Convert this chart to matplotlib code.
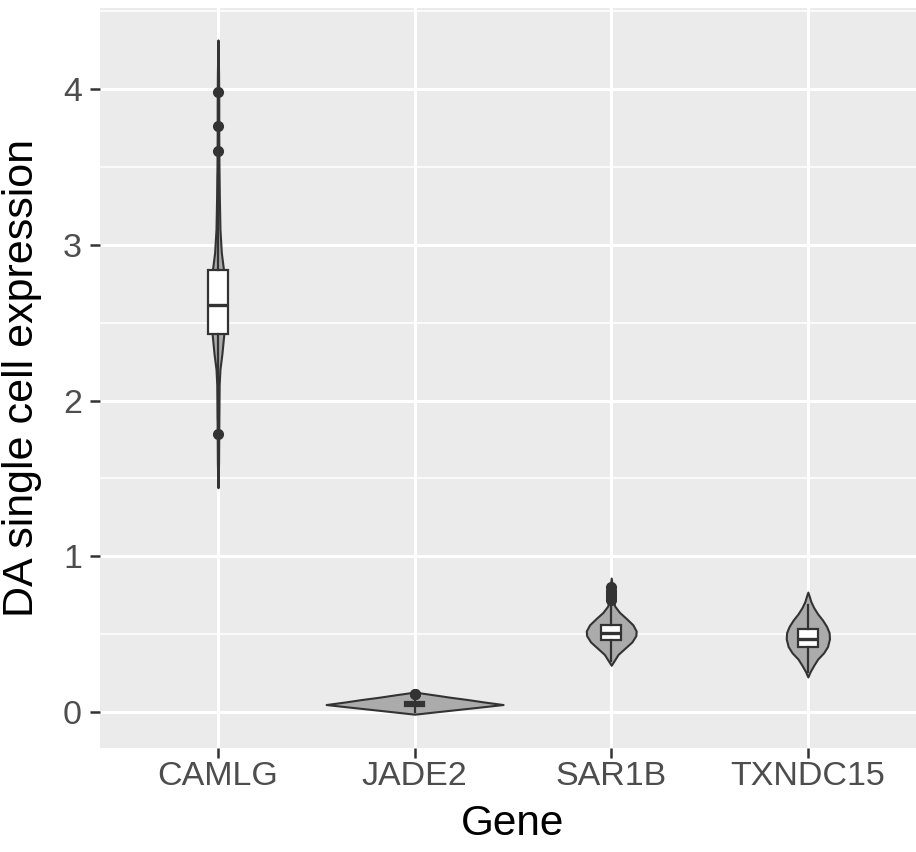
"""Violin + boxplot of DA single-cell expression for four genes (ggplot look)."""

import matplotlib
matplotlib.use("Agg")
import matplotlib.pyplot as plt

plt.rcParams["font.family"] = ["Liberation Sans", "DejaVu Sans"]

genes = ["CAMLG", "JADE2", "SAR1B", "TXNDC15"]

# violin outlines: expression level -> half width (x units)
camlg_y = [1.44, 1.60, 1.80, 1.95, 2.10, 2.20, 2.30, 2.43, 2.55, 2.65, 2.75, 2.84,
           2.95, 3.10, 3.30, 3.50, 3.70, 3.90, 4.10, 4.315]
camlg_w = [0.0, 0.003, 0.004, 0.005, 0.006, 0.010, 0.020, 0.030, 0.036, 0.038, 0.035, 0.028,
           0.017, 0.010, 0.007, 0.005, 0.004, 0.004, 0.003, 0.0]
jade2_y = [-0.014, 0.0, 0.015, 0.03, 0.048, 0.065, 0.08, 0.095, 0.11, 0.128]
jade2_w = [0.0, 0.10, 0.21, 0.32, 0.45, 0.35, 0.27, 0.18, 0.10, 0.0]
sar1b_y = [0.30, 0.33, 0.37, 0.41, 0.45, 0.49, 0.52, 0.56, 0.60, 0.64, 0.68, 0.72, 0.78, 0.86]
sar1b_w = [0.0, 0.015, 0.035, 0.07, 0.105, 0.125, 0.127, 0.11, 0.077, 0.042, 0.018, 0.010, 0.008, 0.0]
txndc15_y = [0.225, 0.26, 0.30, 0.34, 0.38, 0.42, 0.47, 0.51, 0.55, 0.59, 0.63, 0.67, 0.71, 0.74, 0.77]
txndc15_w = [0.0, 0.012, 0.03, 0.05, 0.08, 0.10, 0.11, 0.108, 0.095, 0.075, 0.05, 0.03, 0.015, 0.008, 0.0]

violin_y = [camlg_y, jade2_y, sar1b_y, txndc15_y]
violin_w = [camlg_w, jade2_w, sar1b_w, txndc15_w]

# box summaries
q1 = [2.43, 0.036, 0.46, 0.42]
med = [2.61, 0.051, 0.51, 0.47]
q3 = [2.84, 0.066, 0.56, 0.53]
whislo = [1.88, 0.0, 0.33, 0.26]
whishi = [3.45, 0.10, 0.70, 0.69]
outliers = [[1.785, 3.60, 3.76, 3.98],
            [0.113, 0.118],
            [0.72, 0.74, 0.76, 0.78, 0.80],
            []]

fig = plt.figure(figsize=(9.16, 8.52), dpi=100)
ax = fig.add_axes([100 / 916, 104 / 852, 816 / 916, 740 / 852])
ax.set_facecolor("#EBEBEB")

for i, (ys, ws) in enumerate(zip(violin_y, violin_w)):
    x = i + 1
    ax.fill_betweenx(ys, [x - w for w in ws], [x + w for w in ws],
                     facecolor="#ABABAB", edgecolor="#333333", linewidth=1.5, zorder=2)

stats = [dict(med=med[i], q1=q1[i], q3=q3[i], whislo=whislo[i], whishi=whishi[i],
              fliers=outliers[i]) for i in range(len(genes))]
ax.bxp(stats, positions=[1, 2, 3, 4], widths=0.1, patch_artist=True, showcaps=False,
       boxprops=dict(facecolor="white", edgecolor="#333333", linewidth=1.6),
       medianprops=dict(color="#333333", linewidth=2.4),
       whiskerprops=dict(color="#333333", linewidth=1.6),
       flierprops=dict(marker="o", markersize=7, markerfacecolor="#333333",
                       markeredgecolor="#333333"),
       zorder=3)

ax.set_xlim(0.4, 4.55)
ax.set_ylim(-0.231, 4.52)
ax.set_xticks([1, 2, 3, 4], genes)
ax.set_yticks([0, 1, 2, 3, 4])
ax.set_yticks([0.5, 1.5, 2.5, 3.5, 4.5], minor=True)
ax.grid(which="major", color="white", linewidth=2.2)
ax.grid(which="minor", axis="y", color="white", linewidth=1.1)
ax.set_axisbelow(True)
ax.tick_params(which="major", length=7, width=1.8, color="#333333",
               labelsize=24.5, labelcolor="#4D4D4D")
ax.tick_params(axis="x", pad=2.5)
ax.tick_params(axis="y", pad=6)
ax.tick_params(which="minor", length=0)
for s in ax.spines.values():
    s.set_visible(False)

ax.set_xlabel("Gene", fontsize=30.5)
ax.set_ylabel("DA single cell expression", fontsize=31)
ax.xaxis.set_label_coords(0.505, -0.0757)
ax.yaxis.set_label_coords(-0.071, 0.5)

fig.savefig("out.png", dpi=100)
